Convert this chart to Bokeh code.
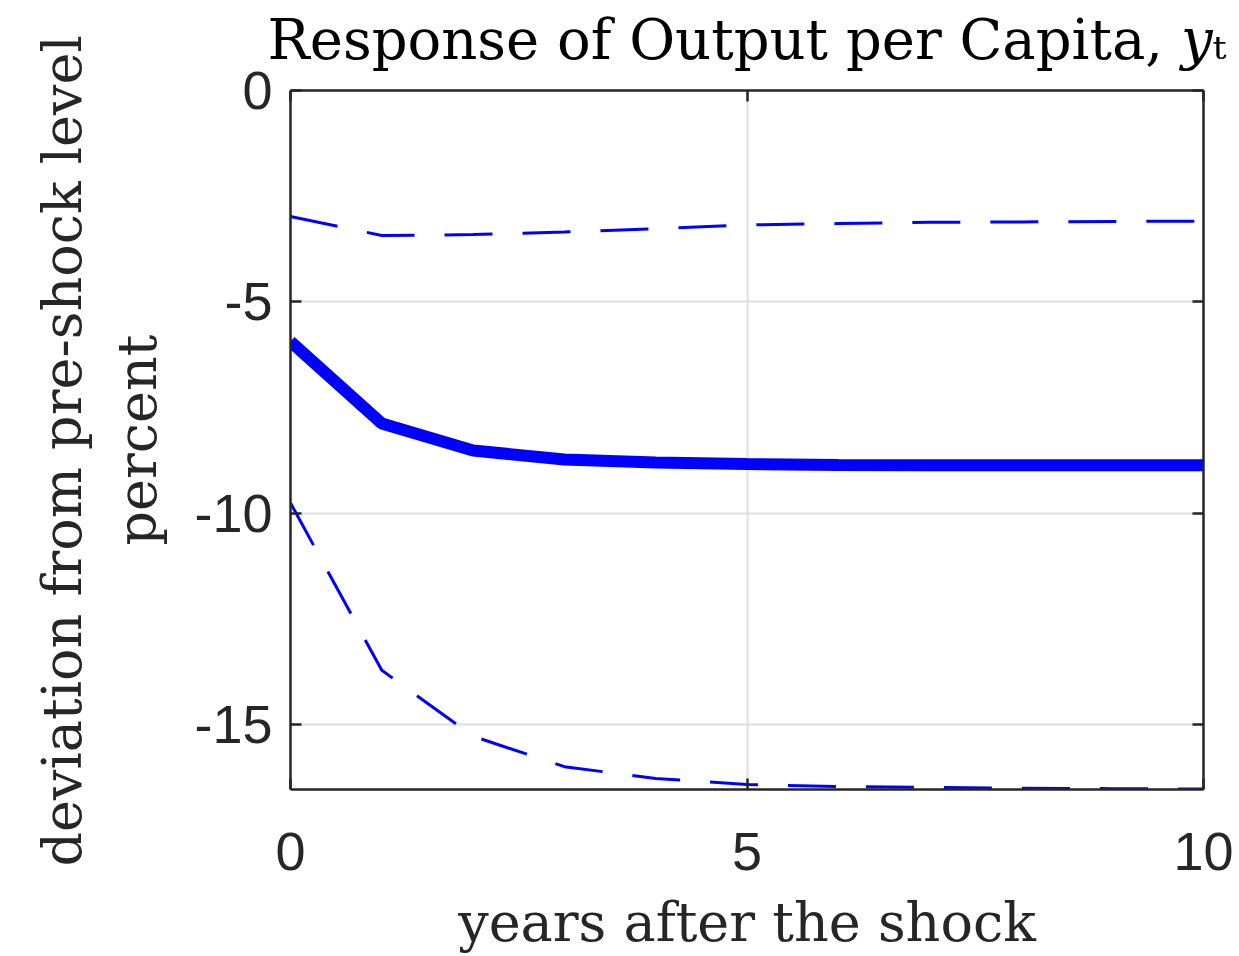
from bokeh.plotting import figure
from bokeh.models import Range1d, FixedTicker, LinearAxis, Title
from bokeh.embed import file_html
from bokeh.resources import INLINE

years = [0, 1, 2, 3, 4, 5, 6, 7, 8, 9, 10]
irf_mean = [-5.94, -7.88, -8.52, -8.73, -8.80, -8.84, -8.86, -8.87, -8.87, -8.87, -8.87]
irf_upper = [-2.98, -3.43, -3.41, -3.35, -3.27, -3.18, -3.15, -3.12, -3.11, -3.10, -3.09]
irf_lower = [-9.76, -13.72, -15.28, -16.00, -16.28, -16.42, -16.47, -16.49, -16.51, -16.52, -16.53]

x_ticks = [0, 5, 10]
y_ticks = [0, -5, -10, -15]
x_tick_labels = {0: "0", 5: "5", 10: "10"}
y_tick_labels = {0: "0", -5: "-5", -10: "-10", -15: "-15"}

title_text = "Response of Output per Capita, \U0001D466\u209C"
x_label = "years after the shock"
y_label_1 = "deviation from pre-shock level"
y_label_2 = "percent"

SERIF = "DejaVu Serif"
SANS = "Liberation Sans"
AX = "#262626"

p = figure(width=1239, height=956, output_backend="svg", toolbar_location=None,
           x_range=Range1d(0, 10), y_range=Range1d(-16.54, 0),
           min_border_left=290, min_border_right=36, min_border_top=90, min_border_bottom=167)
p.title = None
p.outline_line_color = None
p.background_fill_color = "white"

for ax in [p.xaxis[0], p.yaxis[0]]:
    ax.axis_line_color = AX
    ax.axis_line_width = 2.5
    ax.major_tick_line_color = AX
    ax.major_tick_line_width = 2.5
    ax.major_tick_in = 11
    ax.major_tick_out = 0
    ax.minor_tick_line_color = None
    ax.major_label_text_font = SANS
    ax.major_label_text_font_size = "54px"
    ax.major_label_text_color = AX
    ax.axis_label_text_font = SERIF
    ax.axis_label_text_font_size = "54px"
    ax.axis_label_text_font_style = "normal"
    ax.axis_label_text_color = AX

p.xaxis[0].ticker = FixedTicker(ticks=x_ticks)
p.yaxis[0].ticker = FixedTicker(ticks=y_ticks)
p.xaxis[0].major_label_overrides = x_tick_labels
p.yaxis[0].major_label_overrides = y_tick_labels
p.xaxis[0].major_label_standoff = 43
p.yaxis[0].major_label_standoff = 18
p.xaxis[0].axis_label = x_label
p.xaxis[0].axis_label_standoff = 18
p.yaxis[0].axis_label = y_label_2
p.yaxis[0].axis_label_standoff = 22

right_axis = LinearAxis(ticker=FixedTicker(ticks=y_ticks), axis_line_color=AX, axis_line_width=2.5,
                        major_tick_line_color=AX, major_tick_line_width=2.5,
                        major_tick_in=11, major_tick_out=0, minor_tick_line_color=None,
                        major_label_overrides={t: "" for t in y_ticks}, major_label_standoff=0)
p.add_layout(right_axis, "right")

top_axis = LinearAxis(ticker=FixedTicker(ticks=x_ticks), axis_line_color=AX, axis_line_width=2.5,
                      major_tick_line_color=AX, major_tick_line_width=2.5,
                      major_tick_in=11, major_tick_out=0, minor_tick_line_color=None,
                      major_label_overrides={t: "" for t in x_ticks}, major_label_standoff=0,
                      axis_label=title_text, axis_label_text_font=SERIF,
                      axis_label_text_font_size="56px", axis_label_text_font_style="normal",
                      axis_label_text_color="black", axis_label_standoff=19)
p.add_layout(top_axis, "above")

p.add_layout(Title(text=y_label_1, text_font=SERIF, text_font_size="54px", text_font_style="normal",
                   text_color=AX, align="left", offset=-77, standoff=20), "left")

p.xgrid.ticker = FixedTicker(ticks=x_ticks)
p.ygrid.ticker = FixedTicker(ticks=y_ticks)
for g in [p.xgrid[0], p.ygrid[0]]:
    g.grid_line_color = "#dfdfdf"
    g.grid_line_width = 2

p.line(years, irf_upper, line_color="#0000ff", line_width=3, line_dash="48 30")
p.line(years, irf_lower, line_color="#0000ff", line_width=3, line_dash="48 30")
p.line(years, irf_mean, line_color="#0000ff", line_width=12)

open("out.html", "w").write(file_html(p, INLINE))
